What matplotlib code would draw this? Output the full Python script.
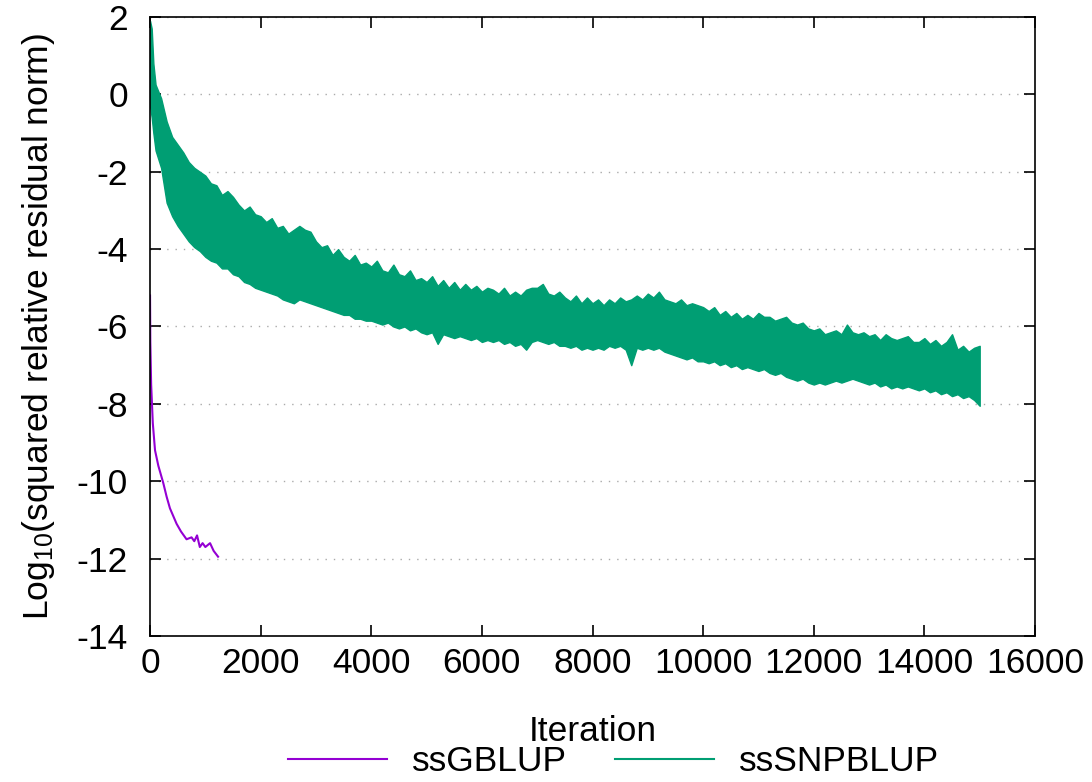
import matplotlib
matplotlib.use("Agg")
import matplotlib.pyplot as plt
from matplotlib.lines import Line2D

plt.rcParams['font.family'] = ['Liberation Sans', 'DejaVu Sans']
plt.rcParams['mathtext.fontset'] = 'custom'
plt.rcParams['mathtext.rm'] = 'Liberation Sans'
plt.rcParams['mathtext.default'] = 'regular'

# ssSNPBLUP: noisy band, local upper / lower envelope
snp_iter = [0, 30, 60] + list(range(100, 15001, 100))
snp_upper = [1.9, 1.7, 0.8, 0.25, -0.1, -0.7, -1.1, -1.3, -1.5, -1.75, -1.9, -2.0,
             -2.1, -2.3, -2.35, -2.6, -2.5, -2.65, -2.85, -3.0, -2.9, -3.1,
             -3.15, -3.3, -3.2, -3.45, -3.4, -3.6, -3.5, -3.4, -3.5, -3.55,
             -3.8, -3.95, -3.9, -4.15, -4.0, -4.2, -4.3, -4.15, -4.4, -4.35,
             -4.45, -4.3, -4.55, -4.6, -4.4, -4.65, -4.7, -4.55, -4.8, -4.75,
             -4.85, -4.7, -4.95, -4.8, -5.0, -4.85, -5.05, -4.9, -5.05, -4.95,
             -5.1, -5.0, -5.05, -5.15, -5.0, -5.2, -5.1, -5.2, -5.05, -5.0,
             -5.0, -4.9, -5.15, -5.2, -5.1, -5.25, -5.35, -5.2, -5.4, -5.25,
             -5.4, -5.3, -5.45, -5.3, -5.4, -5.25, -5.35, -5.3, -5.2, -5.3,
             -5.15, -5.25, -5.1, -5.3, -5.35, -5.4, -5.3, -5.45, -5.4, -5.45,
             -5.5, -5.6, -5.5, -5.7, -5.6, -5.75, -5.65, -5.8, -5.7, -5.8,
             -5.65, -5.75, -5.75, -5.85, -5.8, -5.75, -5.9, -5.95, -5.9, -6.05,
             -6.1, -6.05, -6.2, -6.15, -6.1, -6.2, -5.95, -6.15, -6.2, -6.15,
             -6.25, -6.2, -6.35, -6.2, -6.3, -6.35, -6.3, -6.25, -6.4, -6.4,
             -6.3, -6.45, -6.35, -6.5, -6.4, -6.2, -6.6, -6.5, -6.65, -6.55,
             -6.5]
snp_lower = [-0.3, -0.6, -1.0, -1.45, -1.9, -2.8, -3.15, -3.4, -3.6, -3.8, -3.95, -4.05,
             -4.2, -4.3, -4.35, -4.5, -4.5, -4.65, -4.7, -4.85, -4.9, -5.0,
             -5.05, -5.1, -5.15, -5.2, -5.3, -5.35, -5.4, -5.3, -5.35, -5.4,
             -5.45, -5.5, -5.55, -5.6, -5.65, -5.7, -5.7, -5.8, -5.8, -5.85,
             -5.85, -5.9, -5.95, -5.9, -6.0, -6.05, -6.0, -6.1, -6.05, -6.15,
             -6.2, -6.15, -6.45, -6.2, -6.25, -6.3, -6.25, -6.3, -6.35, -6.3,
             -6.4, -6.35, -6.4, -6.35, -6.45, -6.4, -6.5, -6.45, -6.6, -6.4,
             -6.35, -6.4, -6.45, -6.4, -6.5, -6.5, -6.55, -6.5, -6.6, -6.55,
             -6.6, -6.55, -6.6, -6.5, -6.55, -6.5, -6.6, -7.0, -6.55, -6.6,
             -6.55, -6.6, -6.55, -6.65, -6.7, -6.75, -6.8, -6.85, -6.8, -6.9,
             -6.9, -6.95, -6.9, -7.0, -6.95, -7.05, -7.0, -7.1, -7.05, -7.1,
             -7.15, -7.1, -7.2, -7.25, -7.2, -7.3, -7.35, -7.4, -7.35, -7.45,
             -7.5, -7.45, -7.5, -7.45, -7.4, -7.45, -7.4, -7.35, -7.4, -7.45,
             -7.5, -7.45, -7.55, -7.5, -7.6, -7.55, -7.6, -7.55, -7.6, -7.65,
             -7.6, -7.7, -7.65, -7.75, -7.7, -7.8, -7.75, -7.85, -7.8, -7.9,
             -8.05]

# ssGBLUP
gb_iter = [0, 5, 20, 50, 90, 150, 240, 300, 360, 420, 480, 560, 660, 750, 800, 850, 900,
           950, 1000, 1085, 1150, 1230]
gb_vals = [-5.2, -6.4, -7.5, -8.5, -9.2, -9.6, -10.05, -10.4, -10.7, -10.9, -11.1, -11.3,
           -11.5, -11.45, -11.55, -11.4, -11.7, -11.6, -11.7, -11.6, -11.8, -11.95]

x_ticks = [0, 2000, 4000, 6000, 8000, 10000, 12000, 14000, 16000]
y_ticks = [2, 0, -2, -4, -6, -8, -10, -12, -14]

purple = '#9400d3'
green = '#009e73'
FS = 25.5

fig = plt.figure(figsize=(10.92, 7.82), dpi=100)
ax = fig.add_axes([0.1374, 0.1867, 0.8104, 0.7916])

n = min(len(snp_iter), len(snp_upper), len(snp_lower))
ax.fill_between(snp_iter[:n], snp_lower[:n], snp_upper[:n], color=green,
                linewidth=1.0, edgecolor=green)
ax.plot(gb_iter, gb_vals, color=purple, linewidth=1.5)

ax.set_xlim(0, 16000)
ax.set_ylim(-14, 2)
ax.set_xticks(x_ticks)
ax.set_yticks(y_ticks)
ax.set_xticklabels([str(v) for v in x_ticks])
ax.set_yticklabels([str(v) for v in y_ticks])
ax.tick_params(direction='in', top=True, right=True, length=8, width=1.2,
               labelsize=FS, pad=8)
ax.tick_params(axis='y', pad=16)
ax.yaxis.grid(True, linestyle=(0, (1, 5)), color='#aaaaaa', linewidth=1.0)
ax.set_axisbelow(True)
for s in ax.spines.values():
    s.set_linewidth(1.2)

ax.set_xlabel('Iteration', fontsize=FS, labelpad=25)
ax.set_ylabel('Log$_{10}$(squared relative residual norm)', fontsize=FS, labelpad=14)

handles = [Line2D([], [], color=purple, linewidth=1.5),
           Line2D([], [], color=green, linewidth=1.5)]
fig.legend(handles, ['ssGBLUP', 'ssSNPBLUP'], loc='lower center', ncol=2,
           bbox_to_anchor=(0.562, -0.036), frameon=False, fontsize=FS,
           handlelength=2.8, columnspacing=1.35, handletextpad=0.7)

fig.savefig('out.png', dpi=100)
